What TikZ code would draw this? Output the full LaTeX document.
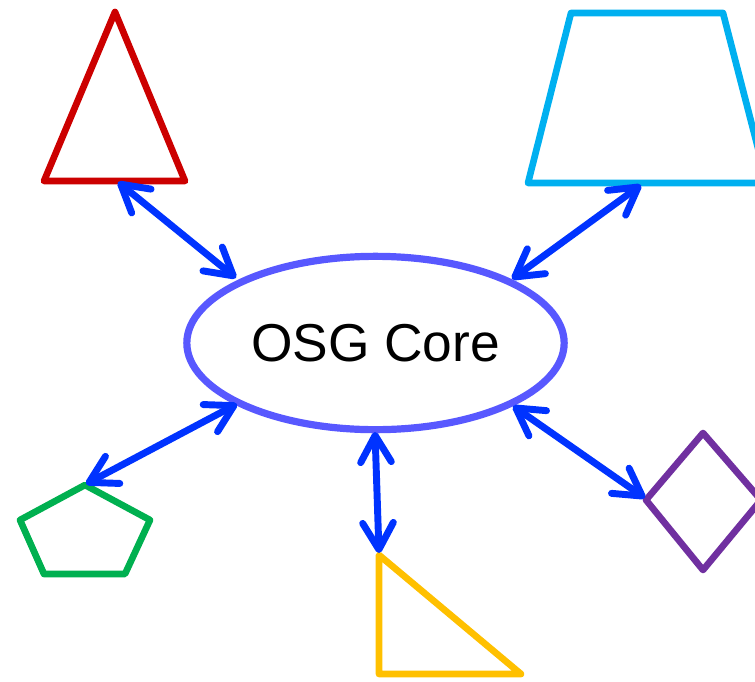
\documentclass[tikz,border=0pt]{standalone}
\usepackage{fontspec}
\setmainfont{Liberation Sans}
\usetikzlibrary{arrows.meta,shapes.geometric}
\definecolor{cRed}{RGB}{204,0,0}
\definecolor{cCyan}{RGB}{0,176,240}
\definecolor{cGreen}{RGB}{0,176,80}
\definecolor{cYellow}{RGB}{255,192,0}
\definecolor{cPurple}{RGB}{112,48,160}
\definecolor{cCore}{RGB}{88,88,255}
\definecolor{cArrow}{RGB}{0,51,255}
\tikzset{
  shapeline/.style={line width=5pt, line join=round, line cap=round},
  link/.style={draw=cArrow, line width=5.2pt, line cap=round,
    {Straight Barb[round,length=20pt,width=23pt]}-{Straight Barb[round,length=20pt,width=23pt]}},
  core/.style={ellipse, draw=cCore, line width=5.4pt, minimum width=283pt, minimum height=130pt,
    inner sep=0pt, outer sep=0pt, font=\fontsize{40}{46}\selectfont}
}
\begin{document}
\begin{tikzpicture}[x=0.75pt,y=-0.75pt]
\useasboundingbox (0,0) rectangle (755,681);
\clip (0,0) rectangle (755,681);
% core
\node[core] (core) at (375.5,343) {OSG Core};
% shapes
\draw[shapeline, draw=cRed] (115,12) -- (185,181) -- (44,181) -- cycle;
\draw[shapeline, draw=cCyan] (571,13) -- (723,13) -- (767,183) -- (528,183) -- cycle;
\draw[shapeline, draw=cGreen] (85,485) -- (150,520) -- (125,574) -- (44,574) -- (20,520) -- cycle;
\draw[shapeline, draw=cYellow] (379,555) -- (521,674) -- (379,674) -- cycle;
\draw[shapeline, draw=cPurple] (703,433) -- (761,500) -- (703,570) -- (646,500) -- cycle;
% connector end points
\coordinate (redA) at (118,182);
\coordinate (coreA) at (236,278);
\coordinate (cyanA) at (641,185);
\coordinate (coreB) at (512,279);
\coordinate (greenA) at (86,484);
\coordinate (coreC) at (237,404);
\coordinate (yellowA) at (379,553);
\coordinate (coreD) at (375,432);
\coordinate (purpleA) at (645,498);
\coordinate (coreE) at (513,406);
% connectors
\draw[link] (redA) -- (coreA);
\draw[link] (cyanA) -- (coreB);
\draw[link] (greenA) -- (coreC);
\draw[link] (yellowA) -- (coreD);
\draw[link] (purpleA) -- (coreE);
\end{tikzpicture}
\end{document}
